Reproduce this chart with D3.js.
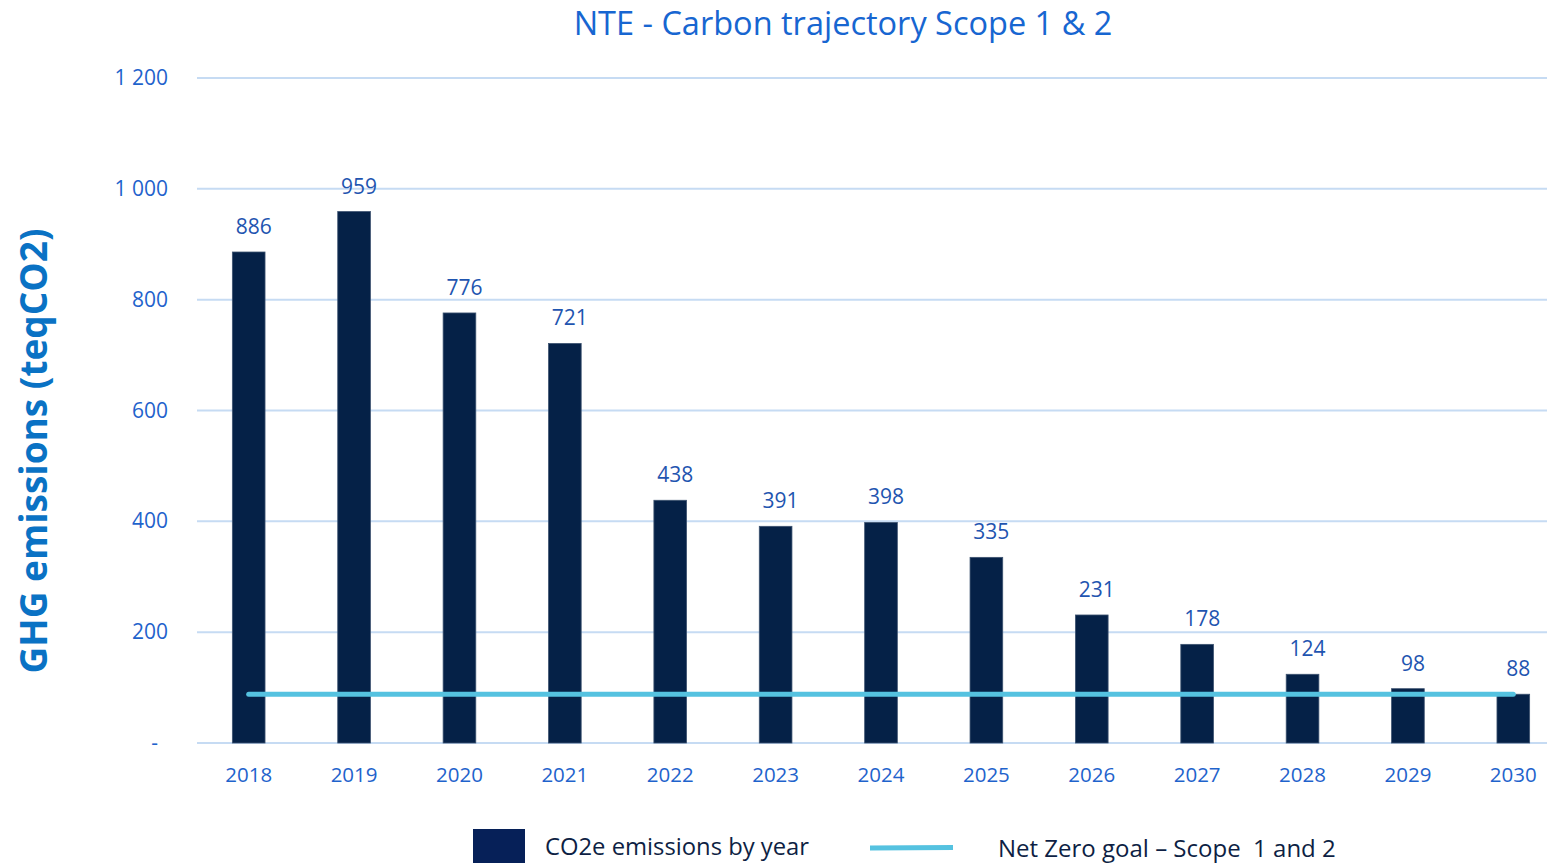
<!DOCTYPE html>
<html>
<head>
<meta charset="utf-8">
<script src="https://cdn.jsdelivr.net/npm/d3@7"></script>
<style>
  body { margin: 0; background: #fff; overflow: hidden; }
  svg { display: block; font-family: "Open Sans", "Noto Sans", sans-serif; }
</style>
</head>
<body>
<svg id="chart" width="1547" height="863"></svg>
<script>
// data
var years = ["2018","2019","2020","2021","2022","2023","2024","2025","2026","2027","2028","2029","2030"];
var emissions = [886, 959, 776, 721, 438, 391, 398, 335, 231, 178, 124, 98, 88];
var netZero = 88;
var yTicks = [0, 200, 400, 600, 800, 1000, 1200];

var svg = d3.select("#chart");
var W = 1547, H = 863;

var x = d3.scaleBand().domain(years).range([196, 1566]).paddingInner(0.69).paddingOuter(0.345);
var y = d3.scaleLinear().domain([0, 1200]).range([743, 78]);

function fmt(v) { return v == 0 ? "-" : d3.format(",")(v).replace(/,/g, " "); }

// title
svg.append("text")
   .attr("x", 843).attr("y", 35)
   .attr("text-anchor", "middle")
   .style("font-size", "32.5px")
   .style("fill", "#1766d1")
   .text("NTE - Carbon trajectory Scope 1 & 2");

// y axis title
svg.append("text")
   .attr("transform", "translate(47,451) rotate(-90)")
   .attr("text-anchor", "middle")
   .style("font-size", "37px")
   .style("font-weight", "bold")
   .style("fill", "#0a72c4")
   .text("GHG emissions (teqCO2)");

// gridlines
svg.append("g").selectAll("line")
   .data(yTicks).enter().append("line")
   .attr("x1", 197).attr("x2", W)
   .attr("y1", function(d) { return y(d); })
   .attr("y2", function(d) { return y(d); })
   .attr("stroke", "#c6dbf3")
   .attr("stroke-width", 2);

// y tick labels (zero shown as a dash, indented like the accounting format)
svg.append("g").selectAll("text")
   .data(yTicks).enter().append("text")
   .attr("x", function(d) { return d == 0 ? 158 : 168; })
   .attr("y", function(d) { return y(d) + 7; })
   .attr("text-anchor", "end")
   .style("font-size", "21px")
   .style("fill", "#1f63cc")
   .text(fmt);

// bars
svg.append("g").selectAll("rect")
   .data(emissions).enter().append("rect")
   .attr("x", function(d, i) { return x(years[i]); })
   .attr("y", function(d) { return y(d); })
   .attr("width", x.bandwidth())
   .attr("height", function(d) { return y(0) - y(d); })
   .attr("fill", "#052147")
   .attr("stroke", "#3d5370")
   .attr("stroke-width", 0.8);

// value labels
svg.append("g").selectAll("text")
   .data(emissions).enter().append("text")
   .attr("x", function(d, i) { return x(years[i]) + x.bandwidth() / 2 + 5; })
   .attr("y", function(d) { return y(d) - 18; })
   .attr("text-anchor", "middle")
   .style("font-size", "21px")
   .style("fill", "#1f55b0")
   .text(function(d) { return d; });

// x labels
svg.append("g").selectAll("text")
   .data(years).enter().append("text")
   .attr("x", function(d) { return x(d) + x.bandwidth() / 2; })
   .attr("y", 782)
   .attr("text-anchor", "middle")
   .style("font-size", "20.5px")
   .style("fill", "#1f63cc")
   .text(function(d) { return d; });

// net zero line
var line = d3.line()
   .x(function(d) { return x(d) + x.bandwidth() / 2; })
   .y(function() { return y(netZero); });
svg.append("path")
   .datum([years[0], years[years.length - 1]])
   .attr("d", line)
   .attr("fill", "none")
   .attr("stroke", "#55c2e0")
   .attr("stroke-width", 5)
   .attr("stroke-linecap", "round");

// legend
var leg = svg.append("g");
leg.append("rect").attr("x", 473).attr("y", 829).attr("width", 52).attr("height", 40).attr("fill", "#062058");
leg.append("text").attr("x", 545).attr("y", 855)
   .style("font-size", "23.8px").style("fill", "#0e1f44")
   .text("CO2e emissions by year");
leg.append("line").attr("x1", 870).attr("x2", 953).attr("y1", 848).attr("y2", 847.5)
   .attr("stroke", "#55c2e0").attr("stroke-width", 5);
leg.append("text").attr("x", 998).attr("y", 857)
   .style("font-size", "24px").style("fill", "#0e1f44")
   .style("white-space", "pre")
   .text("Net Zero goal \u2013 Scope  1 and 2");
</script>
</body>
</html>
